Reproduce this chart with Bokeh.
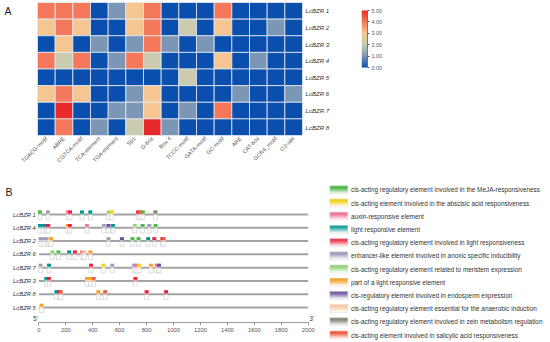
import numpy as np
from bokeh.plotting import figure
from bokeh.models import Range1d, ColumnDataSource, LinearColorMapper, FixedTicker, NumeralTickFormatter
from bokeh.layouts import column, row
from bokeh.core.properties import value
from bokeh.embed import file_html
from bokeh.resources import INLINE

FONT = "Liberation Sans"

# ---------------- data: panel A (heatmap) ----------------
motifs = ["TGACG-motif", "ABRE", "CGTCA-motif", "TCA-element", "TGA-element", "Sp1",
          "G-box", "Box 4", "TCCC-motif", "GATA-motif", "GC-motif", "ARE", "CAT-box",
          "GCN4_motif", "O2-site"]
genes_a = ["LcBZR 1", "LcBZR 2", "LcBZR 3", "LcBZR 4", "LcBZR 5", "LcBZR 6", "LcBZR 7", "LcBZR 8"]
bzr1 = [4, 4, 4, 0, 1, 3, 4, 0, 0, 0, 4, 0, 0, 0, 0]
bzr2 = [3, 4, 3, 0, 0, 3, 4, 0, 2, 0, 3, 0, 0, 1, 0]
bzr3 = [0, 3, 0, 1, 0, 1, 4, 1, 0, 1, 0, 0, 0, 0, 0]
bzr4 = [4, 2, 4, 0, 1, 4, 2, 0, 0, 0, 3, 0, 1, 0, 0]
bzr5 = [0, 0, 0, 0, 0, 0, 0, 0, 2, 0, 0, 0, 0, 0, 0]
bzr6 = [3, 4, 3, 0, 0, 1, 3, 0, 0, 0, 0, 1, 0, 0, 1]
bzr7 = [0, 5, 0, 0, 1, 1, 3, 0, 1, 0, 4, 0, 0, 0, 0]
bzr8 = [0, 4, 0, 1, 0, 2, 5, 1, 0, 0, 0, 0, 0, 0, 0]
heat_rows = [bzr1, bzr2, bzr3, bzr4, bzr5, bzr6, bzr7, bzr8]
cbar_ticks = [0, 1, 2, 3, 4, 5]

# ---------------- data: panel B (promoter elements) ----------------
genes_b = ["LcBZR 1", "LcBZR 4", "LcBZR 2", "LcBZR 6", "LcBZR 7", "LcBZR 3", "LcBZR 8", "LcBZR 5"]
gene_len = [2000, 2000, 2000, 2000, 2000, 2000, 2000, 2000]
elem_types = [
    "cis-acting regulatory element involved in the MeJA-responsiveness",
    "cis-acting element involved in the abscisic acid responsiveness",
    "auxin-responsive element",
    "light responsive element",
    "cis-acting regulatory element involved in light responsiveness",
    "enhancer-like element involved in anoxic specific inducibility",
    "cis-acting regulatory element related to meristem expression",
    "part of a light responsive element",
    "cis-regulatory element involved in endosperm expression",
    "cis-acting regulatory element essential for the anaerobic induction",
    "cis-acting regulatory element involved in zein metabolism regulation",
    "cis-acting element involved in salicylic acid responsiveness",
]
elem_colors = ["#4cb848", "#f3d21a", "#f07596", "#00938c", "#e8203c", "#a09cbc",
               "#95d37f", "#f5a328", "#6a4c9c", "#f7c49a", "#7c8b72", "#f05a42"]
# (position in bp, element type index) per gene, in genes_b order
el_bzr1 = [(7, 0), (67, 5), (215, 2), (232, 4), (320, 3), (382, 3), (517, 6), (542, 1),
           (737, 4), (752, 11), (772, 0), (865, 10)]
el_bzr4 = [(7, 3), (32, 3), (57, 8), (70, 4), (215, 7), (230, 4), (357, 2), (482, 5),
           (517, 8), (550, 3), (712, 6), (770, 0), (820, 5), (867, 0)]
el_bzr2 = [(12, 5), (37, 5), (62, 5), (80, 9), (90, 7), (517, 5), (617, 8), (695, 0),
           (740, 0), (812, 3), (857, 4), (917, 4), (927, 11)]
el_bzr6 = [(100, 6), (145, 0), (225, 3), (267, 4), (320, 2), (337, 9), (382, 7)]
el_bzr7 = [(12, 5), (75, 3), (387, 4), (480, 1), (545, 5), (707, 5), (725, 2), (745, 1),
           (832, 7), (875, 2), (892, 8)]
el_bzr3 = [(55, 3), (75, 4), (357, 7), (382, 7), (407, 11), (717, 4)]
el_bzr8 = [(130, 3), (152, 4), (162, 11), (442, 7), (492, 11), (800, 4), (945, 4)]
el_bzr5 = [(20, 7)]
elements = [el_bzr1, el_bzr4, el_bzr2, el_bzr6, el_bzr7, el_bzr3, el_bzr8, el_bzr5]
bp_ticks = list(range(0, 2001, 200))

# ---------------- colour map ----------------
stops = ["#0b4fae", "#7c97b6", "#cacbaf", "#f6c692", "#f6785a", "#e92a2a"]


def hex2rgb(h):
    return np.array([int(h[i:i + 2], 16) for i in (1, 3, 5)], dtype=float)


def rgb2hex(c):
    return "#%02x%02x%02x" % tuple(int(round(v)) for v in c)


stop_rgb = np.array([hex2rgb(s) for s in stops])
pos = np.linspace(0, 1, len(stops))
tt = np.linspace(0, 1, 256)
palette = [rgb2hex([np.interp(t, pos, stop_rgb[:, k]) for k in range(3)]) for t in tt]
mapper = LinearColorMapper(palette=palette, low=0, high=5)


def common(p):
    p.grid.visible = False
    p.outline_line_color = None
    p.background_fill_color = "white"
    p.border_fill_color = "white"


# ---------------- panel A (heatmap) ----------------
TOP_H = 180
W_A = 355
A_bottom = 45
A_frame_h = TOP_H - A_bottom            # frame spans page y 0..135
hm_left, hm_right, hm_top, hm_bot = 37.0, 302.0, 2.0, 135.0
ncol, nrow = len(motifs), len(genes_a)
cw = (hm_right - hm_left) / ncol
rh = (hm_bot - hm_top) / nrow
ax_start = -0.5 - hm_left / cw
ax_end = ncol - 0.5
ay_start = -0.5
ay_end = nrow - 0.5 + hm_top / rh

hx, hy, hv = [], [], []
for k, vals in enumerate(heat_rows):
    for i, v in enumerate(vals):
        hx.append(i)
        hy.append(nrow - 1 - k)
        hv.append(v)
hsrc = ColumnDataSource(dict(x=hx, y=hy, val=hv))

pA = figure(width=W_A, height=TOP_H, x_range=Range1d(ax_start, ax_end),
            y_range=Range1d(ay_start, ay_end),
            x_axis_location="below", y_axis_location="right",
            toolbar_location=None, output_backend="svg",
            min_border_left=0, min_border_right=W_A - int(hm_right), min_border_top=0,
            min_border_bottom=A_bottom)
common(pA)
pA.rect(x="x", y="y", width=1, height=1, source=hsrc,
        fill_color={"field": "val", "transform": mapper},
        line_color="#e4e8ef", line_width=0.8)
ax = pA.xaxis[0]
ax.ticker = FixedTicker(ticks=list(range(ncol)))
ax.major_label_overrides = {i: m for i, m in enumerate(motifs)}
ax.major_label_orientation = np.pi / 4
ax.major_label_text_font = FONT
ax.major_label_text_font_size = "5.6px"
ax.major_label_text_color = "#555555"
ax.major_label_standoff = 2
ax.axis_line_color = None
ax.major_tick_line_color = None
ax.minor_tick_line_color = None
ax.major_tick_out = 0
ax.major_tick_in = 0
ay = pA.yaxis[0]
ay.ticker = FixedTicker(ticks=list(range(nrow)))
ay.major_label_overrides = {nrow - 1 - k: g for k, g in enumerate(genes_a)}
ay.major_label_text_font = FONT
ay.major_label_text_font_style = "italic"
ay.major_label_text_font_size = "6.1px"
ay.major_label_text_color = "#333333"
ay.major_label_standoff = 3
ay.axis_line_color = None
ay.major_tick_line_color = None
ay.minor_tick_line_color = None
ay.major_tick_out = 0
ay.major_tick_in = 0
pA.text(x=[ax_start + 4.0 / cw], y=[ay_end - 10.0 / rh], text=["A"], text_align="left",
        text_baseline="middle", text_font=value(FONT), text_font_size="10.5px",
        text_color="#222222")

# ---------------- colour bar ----------------
W_C = 550 - W_A
cb_left, cb_w, cb_top, cb_bot = 361.0, 6.0, 10.0, 67.0
cb_scale = (cb_bot - cb_top) / 5.0
pC = figure(width=W_C, height=TOP_H, x_range=Range1d(0, 1),
            y_range=Range1d(-(A_frame_h - cb_bot) / cb_scale, 5 + cb_top / cb_scale),
            x_axis_location=None, y_axis_location="right",
            toolbar_location=None, output_backend="svg",
            min_border_left=int(cb_left - W_A), min_border_right=W_C - int(cb_left - W_A) - int(cb_w),
            min_border_top=0, min_border_bottom=A_bottom)
common(pC)
pC.image(image=[np.linspace(0, 5, 256).reshape(256, 1)], x=0, y=0, dw=1, dh=5,
         color_mapper=mapper)
cy = pC.yaxis[0]
cy.ticker = FixedTicker(ticks=cbar_ticks)
cy.bounds = (0, 5)
cy.formatter = NumeralTickFormatter(format="0.00")
cy.major_label_text_font = FONT
cy.major_label_text_font_size = "5.4px"
cy.major_label_text_color = "#555555"
cy.major_label_standoff = 2
cy.axis_line_color = "#555555"
cy.axis_line_width = 0.8
cy.major_tick_line_color = "#555555"
cy.major_tick_out = 2
cy.major_tick_in = 0
cy.minor_tick_line_color = None

# ---------------- panel B (genes + legend, one frame) ----------------
W_B, H_B = 550, 342 - TOP_H
x0_px, x2000_px = 38.4, 307.7
bp_per_px = 2000.0 / (x2000_px - x0_px)
row0_px, row_sp = 34.0, 13.29          # relative to top of panel B
axis_px = 142.0


def px2x(px):
    return (px - x0_px) * bp_per_px


def py2y(py):
    return (py - row0_px) / row_sp


pB = figure(width=W_B, height=H_B, x_range=Range1d(px2x(0), px2x(W_B)),
            y_range=Range1d(py2y(H_B), py2y(0)),
            y_axis_location=None, toolbar_location=None, output_backend="svg",
            min_border_left=0, min_border_right=0, min_border_top=0, min_border_bottom=0)
common(pB)
idx = list(range(len(genes_b)))
pB.segment(x0=[0] * len(idx), y0=idx, x1=gene_len, y1=idx, line_color="#a3a3a3", line_width=2)

ex, ey, ec = [], [], []
for i, els in enumerate(elements):
    for p_, t_ in els:
        ex.append(p_)
        ey.append(i)
        ec.append(elem_colors[t_])
ex = np.array(ex)
ey = np.array(ey, dtype=float)
light = [rgb2hex(hex2rgb(c) * 0.45 + 255 * 0.55) for c in ec]
pB.rect(x=ex, y=ey + 2.8 / row_sp, width=3.8, height=4.8, width_units="screen",
        height_units="screen", fill_color="white", line_color="#c6c6c6", line_width=0.6)
pB.rect(x=ex, y=ey - 1.7 / row_sp, width=3.8, height=4.4, width_units="screen",
        height_units="screen", fill_color=light, line_color=None)
pB.rect(x=ex, y=ey - 2.5 / row_sp, width=3.8, height=2.8, width_units="screen",
        height_units="screen", fill_color=ec, line_color=None)

pB.text(x=[0] * len(idx), y=idx, text=genes_b, x_offset=-3, text_align="right",
        text_baseline="middle", text_font=value(FONT), text_font_style="italic",
        text_font_size="5.9px", text_color="#333333")
y_axis_line = py2y(axis_px)
pB.text(x=[0], y=[y_axis_line], text=["5'"], x_offset=-1, y_offset=-1, text_align="right",
        text_baseline="bottom", text_font=value(FONT), text_font_size="6.6px",
        text_color="#444444")
pB.text(x=[2000], y=[y_axis_line], text=["3'"], x_offset=1, y_offset=-1, text_align="left",
        text_baseline="bottom", text_font=value(FONT), text_font_size="6.6px",
        text_color="#444444")
pB.text(x=[px2x(5)], y=[py2y(11.5)], text=["B"], text_align="left", text_baseline="middle",
        text_font=value(FONT), text_font_size="10.5px", text_color="#222222")

gx = pB.xaxis[0]
gx.fixed_location = y_axis_line
gx.ticker = FixedTicker(ticks=bp_ticks)
gx.bounds = (0, 2000)
gx.major_label_text_font = FONT
gx.major_label_text_font_size = "5.8px"
gx.major_label_text_color = "#555555"
gx.major_label_standoff = 2
gx.axis_line_color = "#999999"
gx.axis_line_width = 1
gx.major_tick_line_color = "#999999"
gx.major_tick_out = 3
gx.major_tick_in = 0
gx.minor_tick_line_color = None

# legend (drawn in the same frame)
leg0_px, leg_sp = 9.3, 13.2
sw_left, sw_w, sw_h = 329.3, 18.0, 8.0
txt_px = 350.5
nleg = len(elem_types)
leg_y = [py2y(leg0_px + leg_sp * k) for k in range(nleg)]
sw_cx = px2x(sw_left + sw_w / 2)
nslice = 8
for j in range(nslice):
    frac = j / (nslice - 1)
    mix = min(1.0, max(0.0, (frac - 0.25) / 0.75)) * 0.92
    cols = [rgb2hex(hex2rgb(c) * (1 - mix) + 255 * mix) for c in elem_colors]
    yy = [y + ((j + 0.5) / nslice - 0.5) * sw_h / row_sp for y in leg_y]
    pB.rect(x=[sw_cx] * nleg, y=yy, width=sw_w, height=sw_h / nslice + 0.3,
            width_units="screen", height_units="screen", fill_color=cols, line_color=None)
pB.rect(x=[sw_cx] * nleg, y=leg_y, width=sw_w, height=sw_h,
        width_units="screen", height_units="screen", fill_color=None,
        line_color="#e0e0e0", line_width=0.5)
pB.text(x=[px2x(txt_px)] * nleg, y=leg_y, text=elem_types,
        text_align="left", text_baseline="middle", text_font=value(FONT),
        text_font_size="6.4px", text_color="#333333")

layout = column(row(pA, pC), pB)
open("out.html", "w").write(file_html(layout, INLINE))
